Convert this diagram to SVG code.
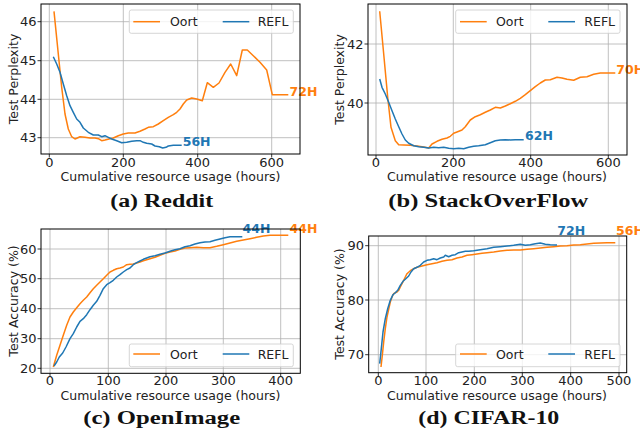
<svg xmlns="http://www.w3.org/2000/svg" width="640" height="433" viewBox="0 0 640 433">
<style>
.bg{fill:#fff}
.grid{stroke:#b0b0b0;stroke-width:0.8;fill:none}
.ax{fill:none;stroke:#000;stroke-width:1}
.tick{stroke:#000;stroke-width:0.8}
.tl{font-family:"DejaVu Sans",sans-serif;font-size:13px;fill:#222}
.yl{text-anchor:end}
.xl{text-anchor:middle}
.lab{font-family:"DejaVu Sans",sans-serif;font-size:12.5px;fill:#222;text-anchor:middle}
.leg{fill:#fff;fill-opacity:0.8;stroke:#ccc;stroke-width:0.8}
.lt{font-family:"DejaVu Sans",sans-serif;font-size:12.5px;fill:#222}
.o{fill:none;stroke:#ff7f0e;stroke-width:1.5;stroke-linejoin:round}
.b{fill:none;stroke:#1f77b4;stroke-width:1.5;stroke-linejoin:round}
.ann{font-family:"DejaVu Sans",sans-serif;font-size:12.5px;font-weight:bold}
.ao{fill:#ff7f0e}
.ab{fill:#1f77b4}
.cap{font-family:"Liberation Serif",serif;font-size:18px;font-weight:bold;fill:#111;text-anchor:middle}
</style>
<rect class="bg" x="0" y="0" width="640" height="433"/>

<!-- (a) Reddit -->
<g id="plot-a">
<g class="grid">
<path d="M49.3 4V154M123.3 4V154M197.7 4V154M271.7 4V154M41 21.7H300M41 60.7H300M41 99.3H300M41 137.7H300"/>
</g>
<g class="tick"><path d="M49.3 154v3.5M123.3 154v3.5M197.7 154v3.5M271.7 154v3.5M41 21.7h-3.5M41 60.7h-3.5M41 99.3h-3.5M41 137.7h-3.5"/></g>
<g class="tl xl"><text x="49.3" y="166.7">0</text><text x="123.3" y="166.7">200</text><text x="197.7" y="166.7">400</text><text x="271.7" y="166.7">600</text></g>
<g class="tl yl"><text x="36.5" y="26.4">46</text><text x="36.5" y="65.4">45</text><text x="36.5" y="104">44</text><text x="36.5" y="142.4">43</text></g>
<text class="lab" x="170.5" y="180.5">Cumulative resource usage (hours)</text>
<text class="lab" transform="translate(17.5 79) rotate(-90)">Test Perplexity</text>
<polyline class="o" points="54,11.3 58.3,54 61.7,87.3 65,114 68.3,129 71.7,136.7 75,139 77.3,138 80,136.7 85,137.3 90,138 95,138 98.3,138.7 101.7,140.7 105,140 110,138.7 113.3,138 118.3,135.7 123.3,134 128.3,133 135,133 140,131.3 145,129 148.3,127.3 153.3,126.7 158.3,124 163.3,120.7 168.3,117.3 173.3,114.7 176.7,112.3 180,109 183.3,104 186.7,100 191.7,98 196.7,99 202.3,100.7 207.3,82.7 213.3,87.3 219,83 225,72.3 230.7,64 236.7,75.7 242.3,50 247.3,50 253.3,55.7 260,62.3 266.7,70 272.3,94.7 288.3,94.7"/>
<polyline class="b" points="53.3,56.7 56.7,64 60,72.3 63.3,84 66.7,95.7 70,105.7 73.3,112.3 76.7,119 80,122.3 83.3,128 88.3,132.3 93.3,135 98.3,135 101.7,136.7 105,135.7 108.3,137.3 111.7,139 116.7,140.7 121.7,142.7 126.7,142.3 131.7,141.3 136.7,140.7 140,140.7 143.3,142.3 146.7,143.3 151.7,144 155,146 159.3,146.7 162.7,148 166,147.3 168.3,146 173.3,145.3 181.7,145.3"/>
<text class="ann ao" x="289.5" y="95.5">72H</text>
<text class="ann ab" x="182.7" y="146">56H</text>
<rect class="ax" x="41" y="4" width="259" height="150"/>
<rect class="leg" x="129.3" y="10" width="164" height="23.3" rx="2"/>
<line class="o" x1="133.3" y1="21.7" x2="160" y2="21.7"/>
<text class="lt" x="170" y="26.3">Oort</text>
<line class="b" x1="222.7" y1="21.7" x2="249.3" y2="21.7"/>
<text class="lt" x="257.7" y="26.3">REFL</text>
<text class="cap" x="161.7" y="207" textLength="103" lengthAdjust="spacingAndGlyphs">(a) Reddit</text>
</g>

<!-- (b) StackOverFlow -->
<g id="plot-b">
<g class="grid">
<path d="M376 4V155M453.3 4V155M530.7 4V155M608.3 4V155M368 44H627M368 103H627"/>
</g>
<g class="tick"><path d="M376 155v3.5M453.3 155v3.5M530.7 155v3.5M608.3 155v3.5M368 44h-3.5M368 103h-3.5"/></g>
<g class="tl xl"><text x="376" y="166.7">0</text><text x="453.3" y="166.7">200</text><text x="530.7" y="166.7">400</text><text x="608.3" y="166.7">600</text></g>
<g class="tl yl"><text x="363.5" y="48.7">42</text><text x="363.5" y="107.7">40</text></g>
<text class="lab" x="497" y="180.5">Cumulative resource usage (hours)</text>
<text class="lab" transform="translate(344 79.5) rotate(-90)">Test Perplexity</text>
<polyline class="o" points="379.7,11.3 383.7,54 387.7,97.3 391,127.3 395.3,140.7 398.7,144.7 403.7,145 410.3,145.3 417,146 423.7,147 428.7,148 432,144 437,141.3 442,139.3 447,138 450.3,136.3 453.7,133.3 457,132 462,130 465.3,126.7 470.3,120 475.3,116.7 480.3,114.7 485.3,112.3 490.3,110 495.3,107.3 500.3,108 505.3,106 510.3,103.7 515.3,101.3 520.3,98.3 525.3,94.7 530.3,90.7 535.3,86.7 540.3,83 545.3,80 550.3,79.7 557,77.3 562,78 567,79.3 573.7,80.3 580.3,77.3 587,76.7 593.7,74.3 600.3,73 607,73 615.3,73"/>
<polyline class="b" points="379.7,79 382,87.3 385.3,94 388.7,102.3 392,110.7 395.3,119 398.7,126.7 402,134 405.3,140 408.7,143.3 413.7,145.7 418.7,146.7 423.7,147.3 428.7,148 433.7,147.3 438.7,147.7 443.7,147.3 448.7,148.3 453.7,148.7 458.7,148.3 463.7,148.7 468.7,147.3 473.7,146.3 478.7,145.7 485.3,144.7 490.3,142.7 495.3,140.7 500.3,140 505.3,139.7 510.3,140 515.3,139.7 523.7,139.7"/>
<text class="ann ao" x="616.3" y="73.5">70H</text>
<text class="ann ab" x="525" y="140">62H</text>
<rect class="ax" x="368" y="4" width="259" height="151"/>
<rect class="leg" x="455.7" y="10" width="164.3" height="23.3" rx="2"/>
<line class="o" x1="460" y1="21.7" x2="486.7" y2="21.7"/>
<text class="lt" x="496" y="26.3">Oort</text>
<line class="b" x1="548.3" y1="21.7" x2="575" y2="21.7"/>
<text class="lt" x="584.3" y="26.3">REFL</text>
<text class="cap" x="488.3" y="207" textLength="200" lengthAdjust="spacingAndGlyphs">(b) StackOverFlow</text>
</g>

<!-- (c) OpenImage -->
<g id="plot-c">
<g class="grid">
<path d="M50 229V373.3M108.3 229V373.3M166 229V373.3M223.3 229V373.3M280.7 229V373.3M41 249H300.3M41 278.7H300.3M41 308.7H300.3M41 338.7H300.3M41 368.3H300.3"/>
</g>
<g class="tick"><path d="M50 373.3v3.5M108.3 373.3v3.5M166 373.3v3.5M223.3 373.3v3.5M280.7 373.3v3.5M41 249h-3.5M41 278.7h-3.5M41 308.7h-3.5M41 338.7h-3.5M41 368.3h-3.5"/></g>
<g class="tl xl"><text x="50" y="384.5">0</text><text x="108.3" y="384.5">100</text><text x="166" y="384.5">200</text><text x="223.3" y="384.5">300</text><text x="280.7" y="384.5">400</text></g>
<g class="tl yl"><text x="36.5" y="253.7">60</text><text x="36.5" y="283.4">50</text><text x="36.5" y="313.4">40</text><text x="36.5" y="343.4">30</text><text x="36.5" y="373">20</text></g>
<text class="lab" x="170.5" y="399.5">Cumulative resource usage (hours)</text>
<text class="lab" transform="translate(17.5 301) rotate(-90)">Test Accuracy (%)</text>
<polyline class="o" points="53.3,367 56.7,355.3 60,345.3 63.3,335.3 66.7,325.3 70,317 73.3,312 76.7,307.7 80,303.7 83.3,300.3 86.7,297 90,292.7 93.3,288.7 96.7,285.3 100,282 103.3,278.7 106.7,275.3 110,272 113.3,270.3 116.7,268.7 120,268 123.3,267 126.7,264.7 130,264.3 133.3,264 136.7,263 140,262 143.3,260.7 146.7,259.7 150,258.7 155,257.3 160,255.3 165,253.3 170,252 175,251 180,249.3 185,248 190,247.7 196.7,247.3 203.3,247.7 210,247.7 216.7,246.3 223.3,244.7 230,243 236.7,241.3 243.3,240 250,238.7 256.7,237.3 263.3,236 270,235.3 280,235.3 288.3,235.3"/>
<polyline class="b" points="54,366 56.7,362 59.3,357 62.7,353 66,347 70,338.7 73.3,333.7 76.7,327 80,321.3 83.3,318.7 86.7,314.7 90,309.7 93.3,305.3 96.7,301.3 100,295.3 103.3,288.7 106.7,284.7 110,282.7 113.3,280.3 116.7,277 120,274.7 123.3,272 126.7,269.7 130,268 133.3,264.7 136.7,262.7 140,261 143.3,259.3 146.7,258 150,256.7 155,255.7 160,254.3 165,253 170,251.3 175,249.7 180,248.7 185,246.7 190,245.7 195,244 200,242.7 205,242 210,241.7 215,240.3 220,239 225,237.7 230,236.7 235,236.7 242.3,236.7"/>
<text class="ann ao" x="289.5" y="232.5">44H</text>
<text class="ann ab" x="242.5" y="232.5">44H</text>
<rect class="ax" x="41" y="229" width="259.3" height="144.3"/>
<rect class="leg" x="129.3" y="344" width="164" height="22.7" rx="2"/>
<line class="o" x1="133.3" y1="354" x2="160" y2="354"/>
<text class="lt" x="170" y="359.3">Oort</text>
<line class="b" x1="222.7" y1="354" x2="249.3" y2="354"/>
<text class="lt" x="257.7" y="359.3">REFL</text>
<text class="cap" x="161.7" y="424" textLength="157" lengthAdjust="spacingAndGlyphs">(c) OpenImage</text>
</g>

<!-- (d) CIFAR-10 -->
<g id="plot-d">
<g class="grid">
<path d="M378.3 236V372.7M426 236V372.7M474.3 236V372.7M522.3 236V372.7M570.7 236V372.7M619 236V372.7M368.7 245.7H626.7M368.7 300H626.7M368.7 354.7H626.7"/>
</g>
<g class="tick"><path d="M378.3 372.7v3.5M426 372.7v3.5M474.3 372.7v3.5M522.3 372.7v3.5M570.7 372.7v3.5M619 372.7v3.5M368.7 245.7h-3.5M368.7 300h-3.5M368.7 354.7h-3.5"/></g>
<g class="tl xl"><text x="378.3" y="385">0</text><text x="426" y="385">100</text><text x="474.3" y="385">200</text><text x="522.3" y="385">300</text><text x="570.7" y="385">400</text><text x="619" y="385">500</text></g>
<g class="tl yl"><text x="364" y="250.4">90</text><text x="364" y="304.7">80</text><text x="364" y="359.4">70</text></g>
<text class="lab" x="497" y="399.5">Cumulative resource usage (hours)</text>
<text class="lab" transform="translate(344 304) rotate(-90)">Test Accuracy (%)</text>
<polyline class="o" points="381,367 382.3,355.3 383.7,342 385.3,328.7 387,317 388.7,309.3 390.3,302 392,297 393.7,293.7 395.3,292.7 397,292 398.7,290.3 400.3,287 402,283.7 403.7,280.3 405.3,277 407,273.7 410.3,270.7 413.7,268.7 417,267.3 422,266 427,264.7 432,263.7 437,262.7 442,261.3 447,260.3 452,259.7 457,258 462,257 467,255.3 472,254.7 477,254 482,253.3 487,252.7 493.7,252 500.3,251 507,250.3 513.7,250 520.3,250 527,249.3 533.7,248.7 540.3,248 547,247.3 553.7,246.7 560.3,246 567,245.7 573.7,245 580.3,244.7 587,244 593.7,243.3 600.3,243 607,242.7 615.3,242.7"/>
<polyline class="b" points="379.7,363.7 381.3,348.7 383,332 385.3,318.7 387.7,308.7 390.3,300.3 393,294.7 395.3,292.7 397.7,290.3 400.3,285.3 403,281.3 405.3,279.3 408.7,276 411,272 413.7,268.7 417,267.3 420.3,265.3 423.7,262 427,260.3 430.3,259.7 433.7,258.7 437,259.7 440.3,258 443.7,257 445.3,255.3 448.7,256.7 452,255.3 455.3,254.7 458.7,252.7 462,252 465.3,251.3 468.7,251.3 473.7,250.7 480.3,249.7 487,248.7 493.7,247.3 500.3,246.7 507,246 513.7,245.3 520.3,244.3 525.3,245.3 530.3,244.7 535.3,243.7 540.3,243 545.3,244.3 550.3,244.7 557,245"/>
<text class="ann ab" x="557.3" y="235">72H</text>
<text class="ann ao" x="616" y="235">56H</text>
<rect class="ax" x="368.7" y="236" width="258" height="136.7"/>
<rect class="leg" x="455.7" y="344" width="164.3" height="22.7" rx="2"/>
<line class="o" x1="460" y1="354" x2="486.7" y2="354"/>
<text class="lt" x="496" y="359.3">Oort</text>
<line class="b" x1="548.3" y1="354" x2="575" y2="354"/>
<text class="lt" x="584.3" y="359.3">REFL</text>
<text class="cap" x="488.8" y="424" textLength="141" lengthAdjust="spacingAndGlyphs">(d) CIFAR-10</text>
</g>
</svg>
